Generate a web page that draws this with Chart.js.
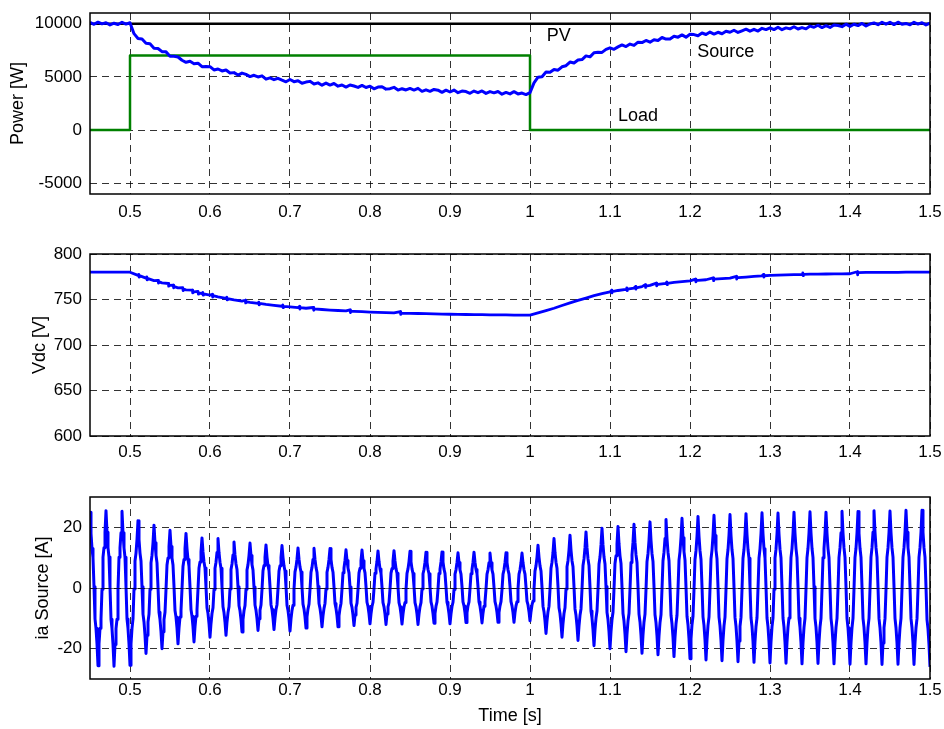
<!DOCTYPE html>
<html>
<head>
<meta charset="utf-8">
<script src="https://cdn.jsdelivr.net/npm/chart.js@4.4.1/dist/chart.umd.min.js"></script>
<style>
html,body{margin:0;padding:0;background:#fff;}
#wrap{position:relative;width:944px;height:729px;background:#fff;overflow:hidden;}
.box{position:absolute;left:0;width:944px;}
</style>
</head>
<body>
<div id="wrap">
  <div class="box" style="top:0px;height:230px"><canvas id="c1"></canvas></div>
  <div class="box" style="top:240px;height:232px"><canvas id="c2"></canvas></div>
  <div class="box" style="top:480px;height:249px"><canvas id="c3"></canvas></div>
</div>
<script>
// ---------- data ----------
const T_START = 0.45;
const T_END = 1.5;
const X_TICKS = [0.5, 0.6, 0.7, 0.8, 0.9, 1.0, 1.1, 1.2, 1.3, 1.4, 1.5];
const X_TICK_LABELS = ['0.5','0.6','0.7','0.8','0.9','1','1.1','1.2','1.3','1.4','1.5'];

const POWER_TICKS = [-5000, 0, 5000, 10000];
const VDC_TICKS = [600, 650, 700, 750, 800];
const IA_TICKS = [-20, 0, 20];

// Power plot
const PV_TIME = [0.45, 1.5];
const PV_POWER = [10000, 10000];
const LOAD_TIME = [0.45, 0.5, 0.5, 1.0, 1.0, 1.5];
const LOAD_POWER = [0, 0, 7000, 7000, 0, 0];
const SOURCE_STEP = 0.005; // samples from 0.45 s
const SOURCE_POWER = [
  10110, 9940, 10140, 9980, 10090, 9880, 10040, 9920, 10130, 9960,
  10080, 9060, 8610, 8560, 8160, 8120, 7700, 7670, 7370, 7350,
  6940, 6940, 6870, 6560, 6370, 6470, 6240, 6290, 5960, 5980,
  5960, 5650, 5740, 5560, 5650, 5360, 5400, 5170, 5360, 5230,
  5030, 5150, 4990, 5100, 4790, 4910, 4740, 4870, 4700, 4540,
  4750, 4550, 4640, 4400, 4510, 4580, 4330, 4440, 4220, 4420,
  4230, 4380, 4130, 4240, 4040, 4240, 4140, 4010, 4200, 4000,
  4130, 3880, 4040, 4070, 3850, 3890, 4020, 3760, 3890, 3770,
  3920, 3760, 3920, 3640, 3780, 3640, 3820, 3750, 3550, 3750,
  3580, 3760, 3520, 3670, 3620, 3460, 3670, 3520, 3680, 3450,
  3620, 3500, 3630, 3380, 3540, 3400, 3610, 3400, 3480, 3340,
  3520, 4440, 4970, 5010, 5450, 5430, 5690, 5630, 5950, 6050,
  6390, 6300, 6580, 6630, 6970, 6880, 7260, 7310, 7300, 7580,
  7730, 7590, 7820, 8000, 7850, 8080, 7960, 8260, 8220, 8420,
  8260, 8490, 8420, 8700, 8550, 8560, 8820, 8730, 8940, 8730,
  9000, 8970, 8860, 9120, 8980, 9210, 9020, 9190, 9050, 9290,
  9190, 9380, 9170, 9330, 9480, 9290, 9470, 9300, 9560, 9440,
  9610, 9440, 9670, 9430, 9600, 9510, 9710, 9500, 9630, 9510,
  9770, 9660, 9850, 9630, 9810, 9640, 9880, 9820, 9720, 9950,
  9740, 9940, 9820, 10020, 9780, 9970, 10070, 9900, 10130, 9950,
  10130, 9910, 10140, 9940, 10020, 9890, 10130, 9960, 10090, 9880,
  10060
];

// Vdc plot (small spikes included)
const VDC_TIME = [
  0.45, 0.46, 0.47, 0.48, 0.49, 0.50, 0.51,
  0.511, 0.5114, 0.5118, 0.52,
  0.521, 0.5214, 0.5218, 0.53,
  0.535, 0.5354, 0.5358, 0.54,
  0.548, 0.5484, 0.5488, 0.55,
  0.554, 0.5544, 0.5548, 0.56,
  0.566, 0.5664, 0.5668, 0.57,
  0.578, 0.5784, 0.5788, 0.58,
  0.585, 0.5854, 0.5858, 0.59,
  0.591, 0.5914, 0.5918, 0.60,
  0.603, 0.6034, 0.6038, 0.61, 0.62,
  0.621, 0.6214, 0.6218, 0.63, 0.64,
  0.644, 0.6444, 0.6448, 0.65, 0.66,
  0.661, 0.6614, 0.6618, 0.67, 0.68, 0.69,
  0.691, 0.6914, 0.6918, 0.70, 0.71,
  0.712, 0.7124, 0.7128, 0.72,
  0.729, 0.7294, 0.7298, 0.73, 0.74, 0.75, 0.76, 0.77,
  0.775, 0.7754, 0.7758, 0.78, 0.79, 0.80, 0.81, 0.82, 0.83,
  0.838, 0.8384, 0.8388, 0.84,
  0.85, 0.86, 0.87, 0.88, 0.89, 0.90, 0.91, 0.92, 0.93, 0.94,
  0.95, 0.96, 0.97, 0.98, 0.99, 1.00, 1.01, 1.02, 1.03, 1.04,
  1.05, 1.06, 1.07, 1.08, 1.09, 1.10,
  1.102, 1.1024, 1.1028, 1.11, 1.12,
  1.121, 1.1214, 1.1218, 1.13,
  1.132, 1.1324, 1.1328, 1.14,
  1.144, 1.1444, 1.1448, 1.15,
  1.158, 1.1584, 1.1588, 1.16, 1.17,
  1.171, 1.1714, 1.1718, 1.18, 1.19, 1.20,
  1.207, 1.2074, 1.2078, 1.21, 1.22,
  1.229, 1.2294, 1.2298, 1.23, 1.24, 1.25,
  1.258, 1.2584, 1.2588, 1.26, 1.27, 1.28, 1.29,
  1.292, 1.2924, 1.2928, 1.30, 1.31, 1.32, 1.33, 1.34,
  1.341, 1.3414, 1.3418, 1.35, 1.36, 1.37, 1.38, 1.39, 1.40,
  1.409, 1.4094, 1.4098, 1.41, 1.42, 1.43, 1.44,
  1.45, 1.46, 1.47, 1.48, 1.49, 1.50
];
const VDC_VOLT = [
  780, 780, 780, 780, 780, 780, 776.5,
  777.7, 774.7, 776.2, 773.5,
  774.7, 771.7, 773.2, 770.8,
  771.1, 768.1, 769.6, 768.3,
  767.6, 764.6, 766.1, 765.5,
  765.9, 762.9, 764.4, 762.8,
  762.9, 759.9, 761.4, 760.5,
  760.2, 757.2, 758.7, 758.3,
  758.9, 755.9, 757.4, 756.5,
  757.8, 754.8, 756.3, 754.8,
  755.7, 752.7, 754.2, 752.9, 751.2,
  752.5, 749.5, 751.0, 749.5, 748.2,
  749.2, 746.2, 747.7, 746.9, 745.8,
  747.2, 744.2, 745.7, 744.6, 743.6, 742.6,
  744.0, 741.0, 742.5, 741.8, 741.1,
  742.5, 739.5, 741.0, 740.4,
  741.2, 738.2, 739.7, 739.6, 739, 738.4, 737.9, 737.4,
  738.7, 735.7, 737.2, 737, 736.6, 736.2, 735.9, 735.6, 735.3,
  736.6, 733.6, 735.1, 735,
  734.8, 734.6, 734.4, 734.2, 734, 733.8, 733.7, 733.5, 733.4, 733.3,
  733.2, 733.1, 733, 732.9, 732.8, 732.8, 735.3, 737.8, 740.4, 743.4,
  746.3, 749, 751.6, 754.2, 756.4, 758.4,
  760.2, 757.2, 758.7, 759.9, 761.2,
  762.8, 759.8, 761.3, 762.6,
  764.4, 761.4, 762.9, 764.2,
  766.3, 763.3, 764.8, 765.6,
  768.0, 765.0, 766.5, 766.7, 767.7,
  769.3, 766.3, 767.8, 768.8, 769.6, 770.4,
  772.4, 769.4, 770.9, 771.1, 771.7,
  773.7, 770.7, 772.2, 772.3, 772.9, 773.5,
  775.5, 772.5, 774.0, 774.1, 774.7, 775.3, 776,
  777.6, 774.6, 776.1, 776.4, 776.8, 777.1, 777.4, 777.7,
  779.2, 776.2, 777.7, 777.8, 777.9, 778, 778.1, 778.2, 778.3,
  780.5, 777.2, 779.4, 779.6, 779.7, 779.8, 779.8,
  779.9, 779.9, 780, 780, 780, 780
];

// ia Source plot
const IA_STEP = 0.00125; // samples from 0.45 s
const IA_CURRENT = [
  25, 18.0, 13.0, 10.0, 0.4, -10.2, -13.3, -18.4, -25.6, -18.4, -13.3, -10.2, -0.4, 10.2, 13.3, 18.4,
  25.5, 18.4, 13.3, 10.2, 0.3, -10.3, -13.4, -18.6, -25.8, -18.6, -13.4, -10.3, -0.5, 10.1, 13.2, 18.2,
  25.3, 18.2, 13.2, 10.1, 0.5, -10.2, -13.3, -18.4, -25.5, -18.4, -13.3, -10.2, -0.3, 8.9, 11.5, 16.0,
  22.2, 16.0, 11.5, 8.9, 0.4, -8.6, -11.2, -15.6, -21.6, -15.6, -11.2, -8.6, -0.4, 8.3, 10.8, 14.9,
  20.7, 14.9, 10.8, 8.3, 0.3, -8.0, -10.4, -14.4, -20, -14.4, -10.4, -8.0, -0.5, 7.6, 9.9, 13.7,
  19, 13.7, 9.9, 7.6, 0.5, -7.4, -9.6, -13.2, -18.4, -13.2, -9.6, -7.4, -0.3, 7.2, 9.4, 13.0,
  18, 13.0, 9.4, 7.2, 0.4, -7.1, -9.3, -12.8, -17.8, -12.8, -9.3, -7.1, -0.4, 6.6, 8.6, 11.9,
  16.5, 11.9, 8.6, 6.6, 0.3, -6.5, -8.4, -11.7, -16.2, -11.7, -8.4, -6.5, -0.5, 6.5, 8.5, 11.7,
  16.3, 11.7, 8.5, 6.5, 0.5, -6.2, -8.1, -11.2, -15.6, -11.2, -8.1, -6.2, -0.3, 6.1, 7.9, 10.9,
  15.2, 10.9, 7.9, 6.1, 0.4, -5.8, -7.5, -10.4, -14.5, -10.4, -7.5, -5.8, -0.4, 5.9, 7.7, 10.7,
  14.8, 10.7, 7.7, 5.9, 0.3, -5.6, -7.3, -10.1, -14, -10.1, -7.3, -5.6, -0.5, 5.7, 7.4, 10.2,
  14.2, 10.2, 7.4, 5.7, 0.5, -5.5, -7.1, -9.9, -13.7, -9.9, -7.1, -5.5, -0.3, 5.6, 7.3, 10.1,
  14, 10.1, 7.3, 5.6, 0.4, -5.7, -7.4, -10.2, -14.2, -10.2, -7.4, -5.7, -0.4, 5.3, 6.9, 9.5,
  13.2, 9.5, 6.9, 5.3, 0.3, -5.3, -6.9, -9.5, -13.2, -9.5, -6.9, -5.3, -0.5, 5.2, 6.8, 9.4,
  13.1, 9.4, 6.8, 5.2, 0.5, -5.1, -6.7, -9.2, -12.8, -9.2, -6.7, -5.1, -0.3, 5.2, 6.8, 9.4,
  13, 9.4, 6.8, 5.2, 0.4, -5.1, -6.7, -9.2, -12.8, -9.2, -6.7, -5.1, -0.4, 5.0, 6.6, 9.1,
  12.6, 9.1, 6.6, 5.0, 0.3, -5.0, -6.4, -8.9, -12.4, -8.9, -6.4, -5.0, -0.5, 5.0, 6.5, 9.0,
  12.5, 9.0, 6.5, 5.0, 0.5, -4.7, -6.1, -8.5, -11.8, -8.5, -6.1, -4.7, -0.3, 4.9, 6.3, 8.8,
  12.2, 8.8, 6.3, 4.9, 0.4, -4.8, -6.2, -8.6, -12, -8.6, -6.2, -4.8, -0.4, 4.9, 6.4, 8.9,
  12.3, 8.9, 6.4, 4.9, 0.3, -4.8, -6.2, -8.6, -11.9, -8.6, -6.2, -4.8, -0.5, 4.8, 6.3, 8.7,
  12.1, 8.7, 6.3, 4.8, 0.5, -4.8, -6.2, -8.6, -12, -8.6, -6.2, -4.8, -0.3, 4.7, 6.1, 8.5,
  11.8, 8.5, 6.1, 4.7, 0.4, -4.6, -6.0, -8.4, -11.6, -8.4, -6.0, -4.6, -0.4, 4.8, 6.2, 8.6,
  11.9, 8.6, 6.2, 4.8, 0.3, -4.7, -6.1, -8.5, -11.8, -8.5, -6.1, -4.7, -0.5, 4.6, 6.0, 8.4,
  11.6, 8.4, 6.0, 4.6, 0.5, -4.6, -5.9, -8.2, -11.4, -8.2, -5.9, -4.6, -0.3, 4.7, 6.1, 8.5,
  11.8, 8.5, 6.1, 4.7, 0.4, -4.6, -6.0, -8.3, -11.5, -8.3, -6.0, -4.6, -0.4, 4.6, 6.0, 8.3,
  11.5, 8.3, 6.0, 4.6, 0.3, -4.5, -5.9, -8.1, -11.3, -8.1, -5.9, -4.5, -0.5, 4.6, 6.0, 8.4,
  11.6, 8.4, 6.0, 4.6, 0.5, -4.5, -5.9, -8.1, -11.3, -8.1, -5.9, -4.5, -0.3, 4.6, 6.0, 8.3,
  11.5, 8.3, 6.0, 4.6, 0.4, -4.3, -5.6, -7.8, -10.8, -7.8, -5.6, -4.3, -0.4, 5.6, 7.3, 10.2,
  14.1, 10.2, 7.3, 5.6, 0.3, -6.0, -7.8, -10.8, -15, -10.8, -7.8, -6.0, -0.5, 6.5, 8.5, 11.7,
  16.3, 11.7, 8.5, 6.5, 0.5, -6.5, -8.4, -11.7, -16.2, -11.7, -8.4, -6.5, -0.3, 7.0, 9.0, 12.5,
  17.4, 12.5, 9.0, 7.0, 0.4, -6.9, -9.0, -12.5, -17.3, -12.5, -9.0, -6.9, -0.4, 7.4, 9.6, 13.3,
  18.5, 13.3, 9.6, 7.4, 0.3, -7.6, -9.9, -13.7, -19, -13.7, -9.9, -7.6, -0.5, 7.9, 10.2, 14.2,
  19.7, 14.2, 10.2, 7.9, 0.5, -8.0, -10.4, -14.4, -20, -14.4, -10.4, -8.0, -0.3, 8.1, 10.6, 14.6,
  20.3, 14.6, 10.6, 8.1, 0.4, -8.4, -10.9, -15.1, -21, -15.1, -10.9, -8.4, -0.4, 8.4, 10.9, 15.1,
  21, 15.1, 10.9, 8.4, 0.3, -8.6, -11.2, -15.5, -21.5, -15.5, -11.2, -8.6, -0.5, 8.7, 11.3, 15.7,
  21.8, 15.7, 11.3, 8.7, 0.5, -8.8, -11.4, -15.8, -22, -15.8, -11.4, -8.8, -0.3, 9.0, 11.8, 16.3,
  22.6, 16.3, 11.8, 9.0, 0.4, -9.0, -11.8, -16.3, -22.6, -16.3, -11.8, -9.0, -0.4, 9.2, 12.0, 16.6,
  23, 16.6, 12.0, 9.2, 0.3, -9.3, -12.1, -16.8, -23.3, -16.8, -12.1, -9.3, -0.5, 9.4, 12.3, 17.0,
  23.6, 17.0, 12.3, 9.4, 0.5, -9.5, -12.3, -17.1, -23.7, -17.1, -12.3, -9.5, -0.3, 9.6, 12.5, 17.3,
  24, 17.3, 12.5, 9.6, 0.4, -9.6, -12.5, -17.3, -24, -17.3, -12.5, -9.6, -0.4, 9.7, 12.6, 17.4,
  24.2, 17.4, 12.6, 9.7, 0.3, -9.7, -12.6, -17.5, -24.3, -17.5, -12.6, -9.7, -0.5, 9.8, 12.7, 17.6,
  24.5, 17.6, 12.7, 9.8, 0.5, -9.8, -12.7, -17.6, -24.5, -17.6, -12.7, -9.8, -0.3, 9.9, 12.9, 17.9,
  24.8, 17.9, 12.9, 9.9, 0.4, -9.9, -12.8, -17.8, -24.7, -17.8, -12.8, -9.9, -0.4, 9.9, 12.8, 17.8,
  24.7, 17.8, 12.8, 9.9, 0.3, -9.9, -12.9, -17.9, -24.8, -17.9, -12.9, -9.9, -0.5, 10.0, 13.0, 18.0,
  25, 18.0, 13.0, 10.0, 0.5, -10.0, -13.0, -18.0, -25, -18.0, -13.0, -10.0, -0.3, 10.0, 13.1, 18.1,
  25.1, 18.1, 13.1, 10.0, 0.4, -10.0, -12.9, -17.9, -24.9, -17.9, -12.9, -10.0, -0.4, 10.0, 13.0, 18.0,
  25, 18.0, 13.0, 10.0, 0.3, -10.0, -13.0, -18.0, -25, -18.0, -13.0, -10.0, -0.5, 10.1, 13.2, 18.2,
  25.3, 18.2, 13.2, 10.1, 0.5, -10.0, -13.1, -18.1, -25.1, -18.1, -13.1, -10.0, -0.3, 10.1, 13.1, 18.1,
  25.2, 18.1, 13.1, 10.1, 0.4, -10.0, -13.0, -18.0, -25, -18.0, -13.0, -10.0, -0.4, 10.2, 13.3, 18.4,
  25.5, 18.4, 13.3, 10.2, 0.3, -10.1, -13.1, -18.1, -25.2, -18.1, -13.1, -10.1, -0.5, 10.2, 13.2, 18.3,
  25.4, 18.3, 13.2, 10.2, 0.5, -10.0, -13.1, -18.1, -25.1, -18.1, -13.1, -10.0, -0.3, 10.2, 13.3, 18.4,
  25.6, 18.4, 13.3, 10.2, 0.4, -10.1, -13.1, -18.1, -25.2, -18.1, -13.1, -10.1, -0.4, 10.2, 13.3, 18.4,
  25.6, 18.4, 13.3, 10.2, 0.3, -10.4, -13.5, -18.7, -26
];

// ---------- helpers ----------
const FONT = '"Liberation Sans", Arial, Helvetica, sans-serif';
Chart.defaults.font.family = FONT;
Chart.defaults.font.size = 17;
Chart.defaults.color = '#000';
Chart.defaults.animation = false;

function pairs(xs, ys) { return ys.map((y, i) => ({x: xs[i], y})); }
function stepped(start, step, ys) { return ys.map((y, i) => ({x: +(start + i * step).toFixed(6), y})); }

const boxPlugin = {
  id: 'axesBox',
  afterDatasetsDraw(chart, args, opts) {
    const {ctx, chartArea: a, scales: {y}} = chart;
    ctx.save();
    if (opts.zeroLine) {
      const py = Math.round(y.getPixelForValue(0)) + 0.5;
      ctx.strokeStyle = 'rgba(0,0,0,0.55)';
      ctx.lineWidth = 1;
      ctx.beginPath(); ctx.moveTo(a.left, py); ctx.lineTo(a.right, py); ctx.stroke();
    }
    ctx.strokeStyle = '#000';
    ctx.lineWidth = 1.5;
    ctx.strokeRect(a.left, a.top, a.right - a.left, a.bottom - a.top);
    ctx.restore();
  }
};

const textPlugin = {
  id: 'textNotes',
  afterDatasetsDraw(chart, args, opts) {
    const notes = opts.notes || [];
    const {ctx, scales: {x, y}} = chart;
    ctx.save();
    ctx.font = '18px ' + FONT;
    ctx.fillStyle = '#000';
    ctx.textAlign = 'left';
    ctx.textBaseline = 'middle';
    notes.forEach(n => ctx.fillText(n.text, x.getPixelForValue(n.x), y.getPixelForValue(n.y)));
    ctx.restore();
  }
};

function makeChart(id, cfg) {
  return new Chart(document.getElementById(id), {
    type: 'line',
    data: {datasets: cfg.datasets},
    plugins: [boxPlugin, textPlugin],
    options: {
      responsive: true,
      maintainAspectRatio: false,
      animation: false,
      layout: {padding: {left: 0, right: 14, top: cfg.padTop, bottom: 0}},
      plugins: {
        legend: {display: false}, tooltip: {enabled: false},
        textNotes: {notes: cfg.notes || []},
        axesBox: {zeroLine: !!cfg.zeroLine}
      },
      elements: {point: {radius: 0}, line: {tension: 0, borderCapStyle: 'butt', borderJoinStyle: 'round'}},
      scales: {
        x: {
          type: 'linear', min: T_START, max: T_END,
          afterBuildTicks: s => { s.ticks = X_TICKS.map(v => ({value: v})); },
          afterFit: s => { s.height = cfg.xAxisHeight; s.paddingLeft = 0; s.paddingRight = 0; },
          ticks: {
            padding: cfg.xTickPad, maxRotation: 0, autoSkip: false, color: '#000',
            callback: (v) => { const i = X_TICKS.findIndex(t => Math.abs(t - v) < 1e-9); return i >= 0 ? X_TICK_LABELS[i] : ''; }
          },
          grid: {color: 'rgba(0,0,0,0.8)', lineWidth: 1, drawTicks: false},
          border: {display: false, dash: [7, 5]},
          title: cfg.xTitle ? {display: true, text: cfg.xTitle, color: '#000', font: {size: 18}, padding: {top: 0, bottom: 2}} : {display: false}
        },
        y: {
          type: 'linear', min: cfg.yMin, max: cfg.yMax,
          afterBuildTicks: s => { s.ticks = cfg.yTicks.map(v => ({value: v})); },
          afterFit: s => { s.width = 90; s.paddingTop = 0; s.paddingBottom = 0; },
          ticks: {padding: 8, color: '#000', callback: v => String(v)},
          grid: {color: 'rgba(0,0,0,0.8)', lineWidth: 1, drawTicks: false},
          border: {display: false, dash: [7, 5]},
          title: {display: true, text: cfg.yTitle, color: '#000', font: {size: 18}, padding: {top: cfg.yTitlePad, bottom: 0}}
        }
      }
    }
  });
}

makeChart('c1', {
  padTop: 13, xAxisHeight: 36, xTickPad: 8, yTitlePad: 7,
  yMin: -6000, yMax: 11000, yTicks: POWER_TICKS, yTitle: 'Power [W]',
  notes: [
    {text: 'PV', x: 1.021, y: 8880},
    {text: 'Source', x: 1.209, y: 7340},
    {text: 'Load', x: 1.11, y: 1310}
  ],
  datasets: [
    {label: 'Source', data: stepped(T_START, SOURCE_STEP, SOURCE_POWER), borderColor: '#0000ff', borderWidth: 3, order: 0},
    {label: 'PV', data: pairs(PV_TIME, PV_POWER), borderColor: '#000000', borderWidth: 2.5, order: 1},
    {label: 'Load', data: pairs(LOAD_TIME, LOAD_POWER), borderColor: '#008000', borderWidth: 2.5, order: 2}
  ]
});

makeChart('c2', {
  padTop: 14, xAxisHeight: 36, xTickPad: 6, yTitlePad: 29,
  yMin: 600, yMax: 800, yTicks: VDC_TICKS, yTitle: 'Vdc [V]',
  datasets: [
    {label: 'Vdc', data: pairs(VDC_TIME, VDC_VOLT), borderColor: '#0000ff', borderWidth: 2.8}
  ]
});

makeChart('c3', {
  padTop: 17, xAxisHeight: 50, xTickPad: 1, yTitlePad: 32, xTitle: 'Time [s]', zeroLine: true,
  yMin: -30, yMax: 30, yTicks: IA_TICKS, yTitle: 'ia Source [A]',
  datasets: [
    {label: 'ia Source', data: stepped(T_START, IA_STEP, IA_CURRENT), borderColor: '#0000ff', borderWidth: 3}
  ]
});
</script>
</body>
</html>
